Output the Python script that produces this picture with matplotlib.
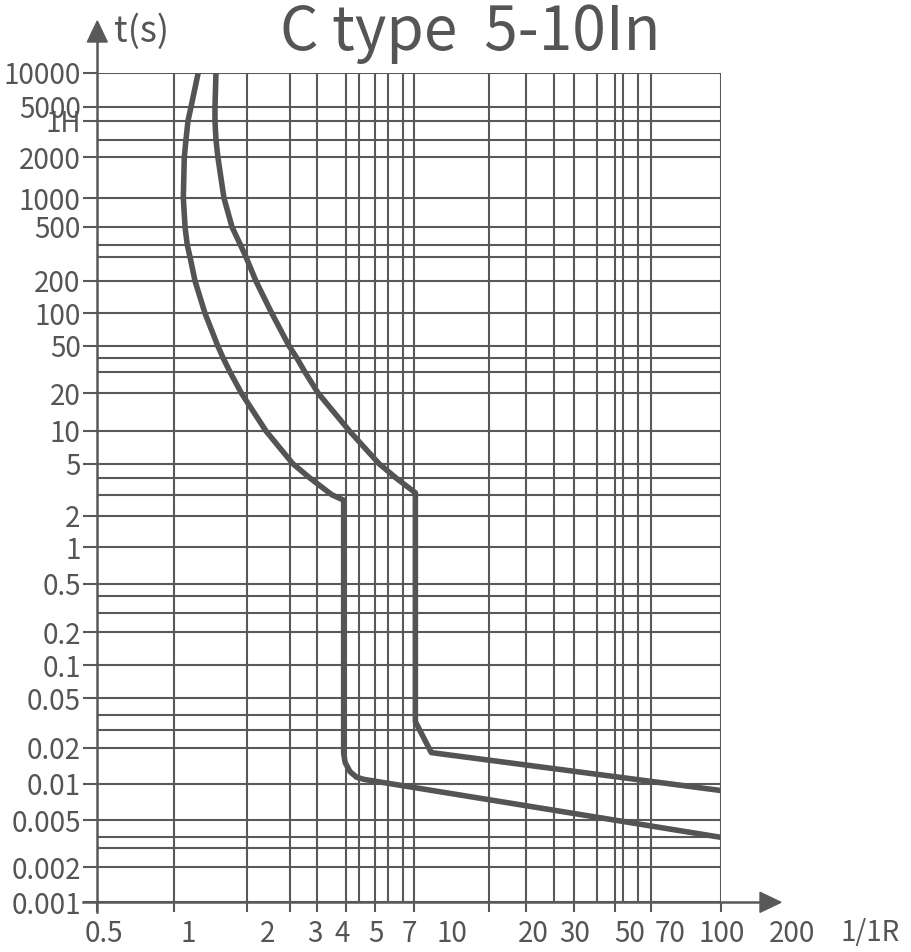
import matplotlib
matplotlib.use('Agg')
import numpy as np
import matplotlib.pyplot as plt
from matplotlib.patches import Polygon

plt.rcParams['font.family'] = ['Noto Sans CJK SC', 'DejaVu Sans']

# ---------------- data ----------------
title = "C type  5-10In"
y_axis_label = "t(s)"
x_axis_label = "1/1R"

x_major = [0.5, 1, 2, 3, 4, 5, 7, 10, 20, 30, 50, 70, 100, 200]
x_major_labels = ["0.5", "1", "2", "3", "4", "5", "7", "10", "20", "30",
                  "50", "70", "100", "200"]
x_minor = [6, 8, 9, 40, 60, 80, 90]

y_major = [10000, 5000, 3600, 2000, 1000, 500, 200, 100, 50, 20, 10, 5, 2, 1,
           0.5, 0.2, 0.1, 0.05, 0.02, 0.01, 0.005, 0.002, 0.001]
y_major_labels = ["10000", "5000", "1H", "2000", "1000", "500", "200", "100",
                  "50", "20", "10", "5", "2", "1", "0.5", "0.2", "0.1", "0.05",
                  "0.02", "0.01", "0.005", "0.002", "0.001"]
y_minor = [3000, 400, 300, 40, 30, 4, 3, 0.4, 0.3, 0.04, 0.03, 0.004, 0.003]

# lower limit curve (5 In)
low_x = [1.26, 1.176, 1.143, 1.121, 1.103, 1.093, 1.111, 1.135, 1.165, 1.222,
         1.344, 1.517, 1.600, 1.706, 1.903, 2.396, 3.09, 3.70, 4.48, 4.92,
         4.92, 4.98, 5.3, 5.8, 6.3, 200]
low_y = [10000, 5000, 3600, 3000, 2000, 1000, 500, 400, 300, 200,
         100, 50, 40, 30, 20, 10, 5, 4, 3, 2.7,
         0.018, 0.0150, 0.0126, 0.0113, 0.01085, 0.0040]

# upper limit curve (10 In)
high_x = [1.492, 1.478, 1.478, 1.492, 1.52, 1.61, 1.739, 1.885, 1.987, 2.18,
          2.53, 2.97, 3.23, 3.51, 4.03, 5.26, 7.29, 8.5, 10.1, 10.1, 11.7, 203]
high_y = [10000, 5000, 3600, 3000, 2000, 1000, 500, 400, 300, 200,
          100, 50, 40, 30, 20, 10, 5, 4, 3.1, 0.0351, 0.0182, 0.00875]

# ---------------- layout ----------------
W, H = 911, 952
GREY = '#595959'
CURVE = '#545454'
TEXT = '#555555'
ax_l, ax_r, ax_t, ax_b = 97.3, 720.7, 72.7, 902.3

# the printed grid is a hand-drawn log grid; its line positions (pixels)
x_grid_vals = [0.5, 1, 2, 3, 4, 5, 6, 7, 8, 9, 10, 20, 30, 40, 50, 60, 70, 80, 90, 100, 200]
x_grid_px = [97.3, 174, 246.7, 290, 317.3, 345.7, 359.3, 375, 388.3, 403.3, 414.3,
             489.3, 526, 554.3, 574.3, 596.7, 615, 622.7, 637.7, 651, 720.7]
y_grid_vals = [0.001, 0.002, 0.003, 0.004, 0.005, 0.01, 0.02, 0.03, 0.04, 0.05,
               0.1, 0.2, 0.3, 0.4, 0.5, 1, 2, 3, 4, 5, 10, 20, 30, 40, 50,
               100, 200, 300, 400, 500, 1000, 2000, 3000, 3600, 5000, 10000]
y_grid_px = [902.3, 867.3, 848.3, 837.3, 820, 783.7, 747.7, 730, 714.7, 698.3,
             665.3, 632, 612.7, 595.7, 583.7, 547.3, 515.7, 494.7, 478, 463.7,
             431, 393.3, 372, 358.3, 345.7, 313.3, 281, 257, 245, 227,
             198, 157.3, 139.7, 120.7, 107, 72.7]

x_label_px = [104, 188, 268, 315, 342, 376, 409, 452, 533, 575, 630, 670, 722, 792]
x_extra_px = 870


def grid_scale(vals, pos):
    lv = np.log10(np.asarray(vals, float))
    p = np.asarray(pos, float)
    s_lo = (p[1] - p[0]) / (lv[1] - lv[0])
    s_hi = (p[-1] - p[-2]) / (lv[-1] - lv[-2])

    def fwd(v):
        l = np.log10(np.clip(np.asarray(v, float), 1e-12, None))
        out = np.interp(l, lv, p)
        out = np.where(l < lv[0], p[0] + (l - lv[0]) * s_lo, out)
        out = np.where(l > lv[-1], p[-1] + (l - lv[-1]) * s_hi, out)
        return out

    def inv(q):
        q = np.asarray(q, float)
        l = np.interp(q, p, lv)
        l = np.where(q < p[0], lv[0] + (q - p[0]) / s_lo, l)
        l = np.where(q > p[-1], lv[-1] + (q - p[-1]) / s_hi, l)
        return 10.0 ** l

    return fwd, inv


fig = plt.figure(figsize=(W / 100, H / 100), dpi=100)
ax = fig.add_axes([ax_l / W, 1 - ax_b / H, (ax_r - ax_l) / W, (ax_b - ax_t) / H])
ax.set_xscale('function', functions=grid_scale(x_grid_vals, x_grid_px))
ax.set_yscale('function', functions=grid_scale(y_grid_vals, [ax_b - v for v in y_grid_px]))
ax.set_xlim(min(x_major), max(x_major))
ax.set_ylim(min(y_major), max(y_major))

for s in ax.spines.values():
    s.set_visible(False)

ax.set_xticks(x_major)
ax.set_xticks(x_minor, minor=True)
ax.set_xticklabels([''] * len(x_major))
ax.set_xticklabels([''] * len(x_minor), minor=True)
ax.set_yticks(y_major)
ax.set_yticks(y_minor, minor=True)
ax.set_yticklabels(y_major_labels)
ax.set_yticklabels([''] * len(y_minor), minor=True)

ax.tick_params(axis='x', which='major', direction='out', length=7.5, width=1.5,
               color=GREY)
ax.tick_params(axis='y', which='major', direction='out', length=10, width=1.5,
               color=GREY, pad=2, labelsize=20, labelcolor=TEXT)
ax.tick_params(which='minor', length=0)
ax.grid(which='both', color=GREY, lw=1.5)
ax.set_axisbelow(True)

# curves
ax.plot(low_x, low_y, color=CURVE, lw=4.0, solid_capstyle='butt', zorder=5)
ax.plot(high_x, high_y, color=CURVE, lw=4.0, solid_capstyle='butt', zorder=5)

# axes with arrows (in axes fraction)
aw = ax_r - ax_l
ah = ax_b - ax_t


def fx(px):
    return (px - ax_l) / aw


def fy(py):
    return (ax_b - py) / ah


ax.plot([0, 0], [fy(912), fy(40)], transform=ax.transAxes, color=GREY, lw=1.8,
        clip_on=False, zorder=6)
ax.plot([fx(83), fx(762)], [0, 0], transform=ax.transAxes, color=GREY, lw=1.8,
        clip_on=False, zorder=6)
ax.add_patch(Polygon([[fx(ax_l), fy(21)], [fx(ax_l - 10), fy(42)], [fx(ax_l + 10), fy(42)]],
                     closed=True, transform=ax.transAxes, color=GREY, clip_on=False,
                     zorder=6))
ax.add_patch(Polygon([[fx(781), 0], [fx(760), fy(ax_b - 10)], [fx(760), fy(ax_b + 10)]],
                     closed=True, transform=ax.transAxes, color=GREY, clip_on=False,
                     zorder=6))

# x labels
for lab, px in zip(x_major_labels, x_label_px):
    fig.text(px / W, 1 - 941.5 / H, lab, ha='center', va='baseline',
             fontsize=20, color=TEXT)
fig.text(x_extra_px / W, 1 - 941.5 / H, x_axis_label, ha='center', va='baseline',
         fontsize=20, color=TEXT)

fig.text(114 / W, 1 - 42 / H, y_axis_label, ha='left', va='baseline',
         fontsize=26, color=TEXT)
fig.text(470 / W, 1 - 50 / H, title, ha='center', va='baseline',
         fontsize=43.5, color=TEXT)

fig.savefig('out.png', dpi=100, facecolor='white')
